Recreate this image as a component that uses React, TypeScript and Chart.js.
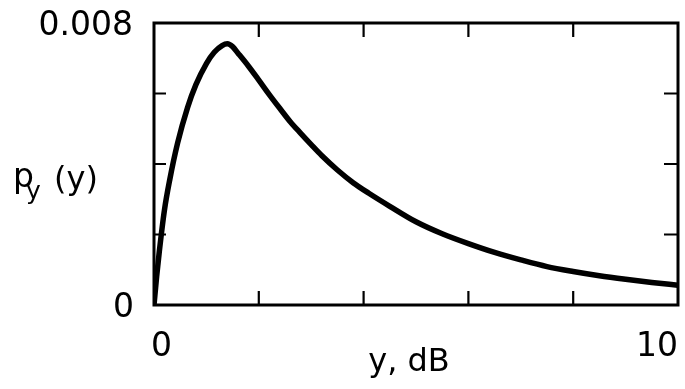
import React, { useEffect, useRef } from "react";
import { Chart, registerables } from "chart.js";

Chart.register(...registerables);

// Curve samples
const xValues = [0, 0.05, 0.1, 0.2, 0.3, 0.45, 0.64, 0.8, 1.0, 1.15, 1.3, 1.4, 1.5, 1.6, 1.8, 2.0, 2.2, 2.4, 2.6, 2.8, 3.0, 3.2, 3.5, 3.8, 4.1, 4.5, 5.0, 5.5, 6.0, 6.5, 7.0, 7.5, 8.0, 8.5, 9.0, 9.5, 10];
const pyValues = [0, 0.0008, 0.0015, 0.0027, 0.00355, 0.00459, 0.0056, 0.00625, 0.00685, 0.00717, 0.00736, 0.00741, 0.00733, 0.00715, 0.00678, 0.00638, 0.00597, 0.00558, 0.0052, 0.00487, 0.00455, 0.00424, 0.00383, 0.00347, 0.00317, 0.0028, 0.00236, 0.00202, 0.00174, 0.00149, 0.00128, 0.00109, 0.00095, 0.00083, 0.00073, 0.00064, 0.00056];

// Tick labels (by tick index); empty = tick mark only
const xTickLabels = ["0", "", "", "", "", "10"];
const yTickLabels = ["0", "", "", "", "0.008"];
const xAxisTitle = "y, dB";
const yAxisTitleMain = "p";
const yAxisTitleSub = "y";
const yAxisTitleRest = "(y)";

const FONT = '"DejaVu Sans", "Liberation Sans", Arial, sans-serif';

const framePlugin = {
  id: "frame",
  afterDraw(chart: any) {
    const { ctx, chartArea } = chart;
    const { left, right, top, bottom } = chartArea;
    const xs = chart.scales.x;
    const ys = chart.scales.y;
    ctx.save();
    ctx.strokeStyle = "#000";
    ctx.fillStyle = "#000";
    ctx.lineWidth = 3;
    ctx.strokeRect(left, top, right - left, bottom - top);

    const tl = 14;
    ctx.lineWidth = 2.2;
    xs.ticks.forEach((t: any, i: number) => {
      const px = xs.getPixelForValue(t.value);
      if (i > 0 && i < xs.ticks.length - 1) {
        ctx.beginPath();
        ctx.moveTo(px, bottom);
        ctx.lineTo(px, bottom - tl);
        ctx.moveTo(px, top);
        ctx.lineTo(px, top + tl);
        ctx.stroke();
      }
      const lab = xTickLabels[i];
      if (lab) {
        ctx.font = `33px ${FONT}`;
        ctx.textBaseline = "middle";
        if (i === 0) {
          ctx.textAlign = "left";
          ctx.fillText(lab, px - 3, bottom + 42);
        } else {
          ctx.textAlign = "right";
          ctx.fillText(lab, px, bottom + 42);
        }
      }
    });
    ys.ticks.forEach((t: any, i: number) => {
      const py = ys.getPixelForValue(t.value);
      if (i > 0 && i < ys.ticks.length - 1) {
        ctx.beginPath();
        ctx.moveTo(left, py);
        ctx.lineTo(left + tl - 2, py);
        ctx.moveTo(right, py);
        ctx.lineTo(right - tl, py);
        ctx.stroke();
      }
      const lab = yTickLabels[i];
      if (lab) {
        ctx.font = `33px ${FONT}`;
        ctx.textBaseline = "middle";
        ctx.textAlign = "right";
        const off = i === 0 ? 20 : 21;
        ctx.fillText(lab, left - off, py + 3);
      }
    });

    // x axis title
    ctx.font = `32px ${FONT}`;
    ctx.textAlign = "center";
    ctx.textBaseline = "alphabetic";
    ctx.fillText(xAxisTitle, left + 255, bottom + 66);

    // y axis title p_y (y)
    const midY = (top + bottom) / 2;
    ctx.textAlign = "left";
    ctx.font = `33px ${FONT}`;
    ctx.fillText(yAxisTitleMain, 13, midY + 23);
    ctx.font = `25px ${FONT}`;
    ctx.fillText(yAxisTitleSub, 26, midY + 35);
    ctx.font = `32px ${FONT}`;
    ctx.fillText(yAxisTitleRest, 54, midY + 25);
    ctx.restore();
  },
};

export default function App() {
  const ref = useRef<HTMLCanvasElement | null>(null);
  useEffect(() => {
    document.body.style.margin = "0";
    const canvas = ref.current;
    if (!canvas) return;
    const chart = new Chart(canvas, {
      type: "line",
      data: {
        datasets: [
          {
            data: xValues.map((x, i) => ({ x, y: pyValues[i] })),
            borderColor: "#000",
            borderWidth: 5.5,
            pointRadius: 0,
            fill: false,
            cubicInterpolationMode: "monotone",
          },
        ],
      },
      options: {
        responsive: false,
        animation: false,
        devicePixelRatio: 1,
        layout: { padding: { left: 146, right: 7, top: 23, bottom: 76 } },
        plugins: { legend: { display: false }, tooltip: { enabled: false } },
        scales: {
          x: {
            type: "linear",
            min: 0,
            max: 10,
            ticks: { stepSize: 2, display: false },
            grid: { display: false },
            border: { display: false },
          },
          y: {
            type: "linear",
            min: 0,
            max: 0.008,
            ticks: { stepSize: 0.002, display: false },
            grid: { display: false },
            border: { display: false },
          },
        },
      },
      plugins: [framePlugin],
    } as any);
    return () => chart.destroy();
  }, []);
  return (
    <div style={{ width: 685, height: 389, background: "#fff" }}>
      <canvas ref={ref} width={685} height={389} style={{ display: "block" }} />
    </div>
  );
}
